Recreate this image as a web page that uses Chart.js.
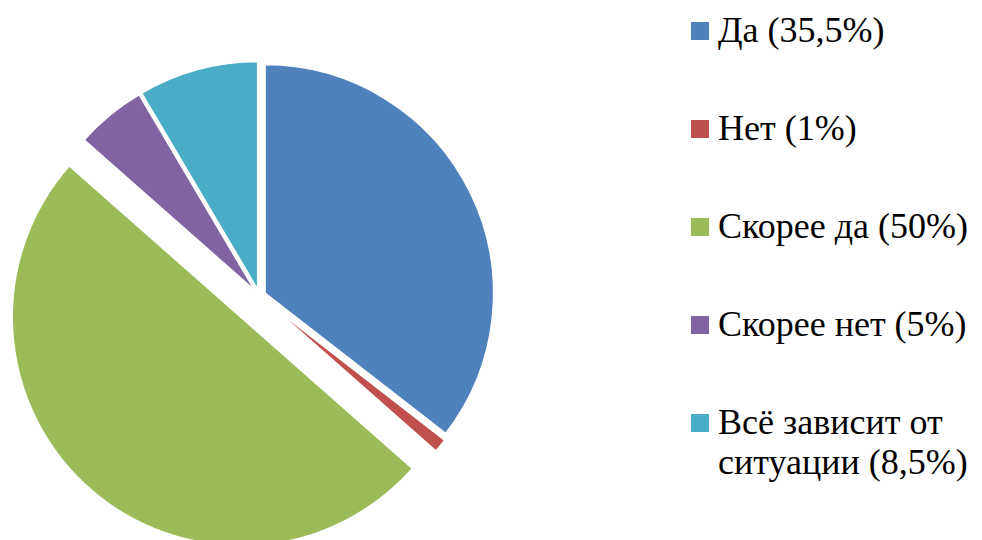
<!DOCTYPE html>
<html>
<head>
<meta charset="utf-8">
<script src="https://cdn.jsdelivr.net/npm/chart.js@4/dist/chart.umd.min.js"></script>
<style>
  html, body { margin: 0; padding: 0; background: #fff; }
  #wrap { position: relative; width: 982px; height: 540px; overflow: hidden; background: #fff; }
  #pie { position: absolute; left: 0; top: 0; }
  #legend { position: absolute; left: 691px; top: 10px; width: 300px;
            font-family: "Liberation Serif", "Times New Roman", serif;
            font-size: 36px; line-height: 40px; color: #000; }
  .item { position: relative; padding-left: 27px; height: 98px; width: 272px; }
  .box { position: absolute; left: 0; top: 11.5px; width: 18px; height: 18px; }
</style>
</head>
<body>
<div id="wrap">
  <canvas id="pie" width="519" height="592"></canvas>
  <div id="legend"></div>
</div>
<script>
const categories = ['Да', 'Нет', 'Скорее да', 'Скорее нет', 'Всё зависит от ситуации'];
const values = [35.5, 1, 50, 5, 8.5];
const colors = ['#4F81BD', '#C0504D', '#9BBB59', '#8064A2', '#4BACC6'];

const fmt = v => String(v).replace('.', ',');
const legendTexts = categories.map((c, i) => c + ' (' + fmt(values[i]) + '%)');

// explode distances (px) per slice, applied along each slice's mid-angle
const explodePlugin = {
  id: 'explode',
  afterDatasetUpdate(chart, args) {
    const ds = chart.data.datasets[args.index];
    const dist = ds.explodeBy || [];
    args.meta.data.forEach((arc, i) => {
      const d = dist[i] || 0;
      const mid = (arc.startAngle + arc.endAngle) / 2;
      arc.x += Math.cos(mid) * d;
      arc.y += Math.sin(mid) * d;
    });
  }
};

new Chart(document.getElementById('pie'), {
  type: 'pie',
  data: {
    labels: legendTexts,
    datasets: [{
      data: values,
      backgroundColor: colors,
      borderColor: '#ffffff',
      borderWidth: 2,
      explodeBy: [6, 6, 28, 6, 6]
    }]
  },
  options: {
    responsive: false,
    animation: false,
    radius: 229,
    layout: { padding: 0 },
    events: [],
    plugins: { legend: { display: false }, tooltip: { enabled: false } }
  },
  plugins: [explodePlugin]
});

const legend = document.getElementById('legend');
legendTexts.forEach((t, i) => {
  const item = document.createElement('div');
  item.className = 'item';
  const box = document.createElement('span');
  box.className = 'box';
  box.style.background = colors[i];
  item.appendChild(box);
  const txt = document.createElement('span');
  txt.textContent = t;
  item.appendChild(txt);
  legend.appendChild(item);
});
</script>
</body>
</html>
